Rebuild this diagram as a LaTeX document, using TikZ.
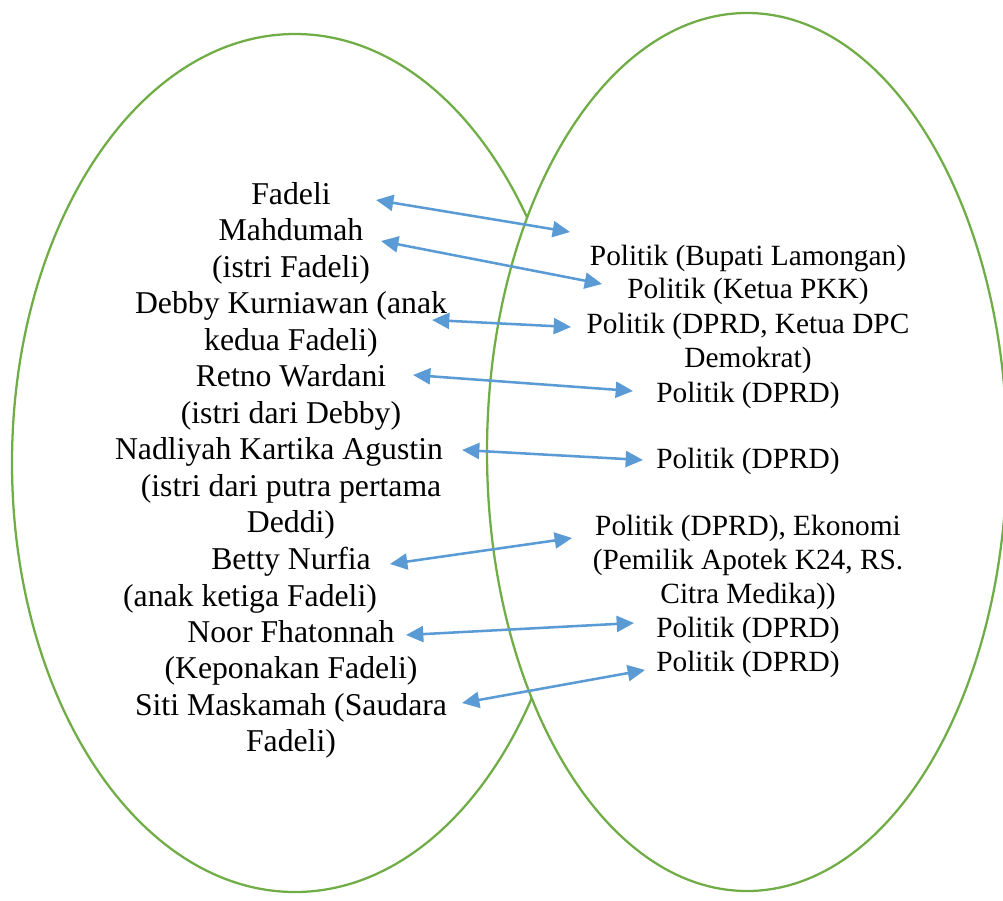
\documentclass[tikz,border=0pt]{standalone}
\usepackage{fontspec}
\setmainfont{Liberation Serif}
\usepackage{tikz}
\usetikzlibrary{arrows.meta}
\definecolor{vgreen}{RGB}{112,173,71}
\definecolor{vblue}{RGB}{91,155,213}

\begin{document}
\begin{tikzpicture}[x=0.75pt,y=-0.75pt,
  ring/.style={draw=vgreen,line width=1.7pt},
  who/.style={anchor=north,align=center,inner sep=0pt,font=\fontsize{23.8}{27.4}\selectfont},
  role/.style={anchor=north,align=center,inner sep=0pt,font=\fontsize{22}{25.5}\selectfont},
  link/.style={vblue,line width=1.9pt,{Triangle[length=13pt,width=12pt]}-{Triangle[length=13pt,width=12pt]}}]
\useasboundingbox (0,0) rectangle (1003,900);
%\draw[help lines] (0,0) grid[step=50] (1003,900);
\draw[ring] (295,463) ellipse [x radius=283, y radius=429];
\draw[ring,fill=white] (747,452) ellipse [x radius=260, y radius=439];
% keluarga
\node[who] (a1) at (291,182) {Fadeli};
\node[who] (a2) at (291,218.5) {Mahdumah\\(istri Fadeli)};
\node[who] (a3) at (291,291.5) {Debby Kurniawan (anak\\kedua Fadeli)};
\node[who] (a4) at (291,364.5) {Retno Wardani\\(istri dari Debby)};
\node[who] (a5) at (291,437.5) {Nadliyah Kartika Agustin\hspace*{18pt}\\(istri dari putra pertama\\Deddi)};
\node[who] (a6) at (291,547) {Betty Nurfia\\(anak ketiga Fadeli)\hspace*{61.5pt}};
\node[who] (a7) at (291,620) {Noor Fhatonnah\\(Keponakan Fadeli)};
\node[who] (a8) at (291,693) {Siti Maskamah (Saudara\\Fadeli)};
% jabatan
\node[role] (b1) at (748,245) {Politik (Bupati Lamongan)};
\node[role] (b2) at (748,278) {Politik (Ketua PKK)};
\node[role] (b3) at (748,313) {Politik (DPRD, Ketua DPC\\Demokrat)};
\node[role] (b4) at (748,382) {Politik (DPRD)};
\node[role] (b5) at (748,448) {Politik (DPRD)};
\node[role] (b6) at (748,515) {Politik (DPRD), Ekonomi\\(Pemilik Apotek K24, RS.\\Citra Medika))};
\node[role] (b7) at (748,617) {Politik (DPRD)};
\node[role] (b8) at (748,651) {Politik (DPRD)};
% ujung panah
\coordinate (u1) at (376,200); \coordinate (v1) at (570,232);
\coordinate (u2) at (381,241); \coordinate (v2) at (602,284);
\coordinate (u3) at (432,320); \coordinate (v3) at (571,327);
\coordinate (u4) at (413,375); \coordinate (v4) at (633,391);
\coordinate (u5) at (462,450); \coordinate (v5) at (643,460);
\coordinate (u6) at (390,564); \coordinate (v6) at (572,538);
\coordinate (u7) at (406,635); \coordinate (v7) at (634,623);
\coordinate (u8) at (462,703); \coordinate (v8) at (645,670);
\draw[link] (u1) -- (v1);
\draw[link] (u2) -- (v2);
\draw[link] (u3) -- (v3);
\draw[link] (u4) -- (v4);
\draw[link] (u5) -- (v5);
\draw[link] (u6) -- (v6);
\draw[link] (u7) -- (v7);
\draw[link] (u8) -- (v8);
\end{tikzpicture}
\end{document}
